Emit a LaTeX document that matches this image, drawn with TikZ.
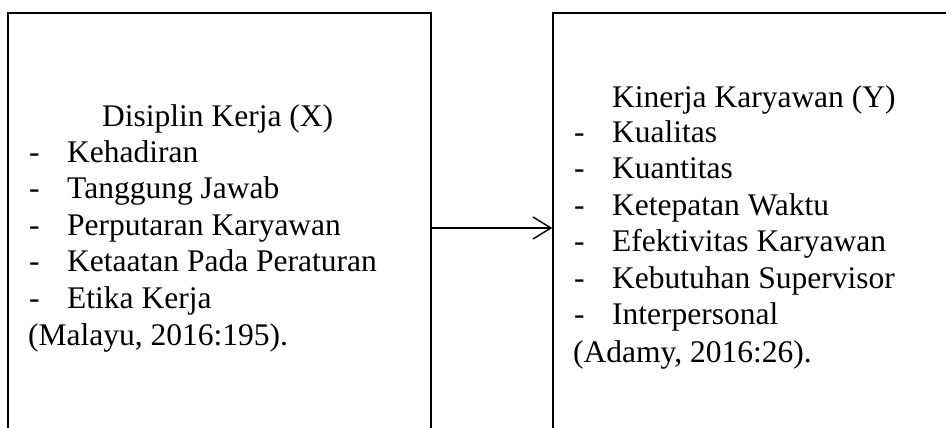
\documentclass[tikz,border=0pt]{standalone}
\usepackage{fontspec}
\setmainfont{Liberation Serif}
\usepackage{tikz}
\usetikzlibrary{arrows.meta}

\tikzset{
  varbox/.style={draw, line width=1.4pt, minimum height=430pt, inner sep=0pt},
  txt/.style={anchor=base west, inner sep=0pt, font=\fontsize{31.5}{36.5}\selectfont},
}

\begin{document}
\begin{tikzpicture}[x=1pt,y=1pt]
    \useasboundingbox (0,0) rectangle (946,428);
    \clip (0,0) rectangle (946,428);
    \node [varbox, minimum width=423pt] (boxX) at (219.5,200) {};
    \node [varbox, minimum width=447pt] (boxY) at (776.5,200) {};
    % Disiplin Kerja
    \node [txt] (titleX) at (102,301) {Disiplin Kerja (X)};
    \node [txt] (dX1) at (29,265) {-};
    \node [txt] (iX1) at (67,265) {Kehadiran};
    \node [txt] (dX2) at (29,229) {-};
    \node [txt] (iX2) at (67,229) {Tanggung Jawab};
    \node [txt] (dX3) at (29,192) {-};
    \node [txt] (iX3) at (67,192) {Perputaran Karyawan};
    \node [txt] (dX4) at (29,156) {-};
    \node [txt] (iX4) at (67,156) {Ketaatan Pada Peraturan};
    \node [txt] (dX5) at (29,119) {-};
    \node [txt] (iX5) at (67,119) {Etika Kerja};
    \node [txt] (srcX) at (28,82) {(Malayu, 2016:195).};
    % Kinerja Karyawan
    \node [txt] (titleY) at (612,320) {Kinerja Karyawan (Y)};
    \node [txt] (dY1) at (574,285) {-};
    \node [txt] (iY1) at (612,285) {Kualitas};
    \node [txt] (dY2) at (574,249) {-};
    \node [txt] (iY2) at (612,249) {Kuantitas};
    \node [txt] (dY3) at (574,212) {-};
    \node [txt] (iY3) at (612,212) {Ketepatan Waktu};
    \node [txt] (dY4) at (574,176) {-};
    \node [txt] (iY4) at (612,176) {Efektivitas Karyawan};
    \node [txt] (dY5) at (574,139) {-};
    \node [txt] (iY5) at (612,139) {Kebutuhan Supervisor};
    \node [txt] (dY6) at (574,103) {-};
    \node [txt] (iY6) at (612,103) {Interpersonal};
    \node [txt] (srcY) at (573,65) {(Adamy,\ 2016:26).};
    \draw [line width=1.4pt, -{Straight Barb[length=18pt,width=22pt,line width=1.4pt]}] (boxX.east) -- (boxY.west);
\end{tikzpicture}
\end{document}
